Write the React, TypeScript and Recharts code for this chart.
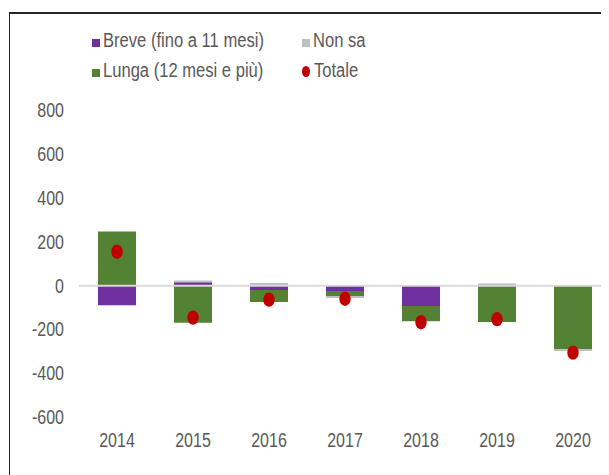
import React from "react";
import { Bar, ComposedChart, Legend, ReferenceLine, Scatter, XAxis, YAxis } from "recharts";

const years = ["2014", "2015", "2016", "2017", "2018", "2019", "2020"];
const breve = [-90, 15, -20, -25, -93, 5, 0];
const lunga = [247, -170, -55, -22, -68, -166, -290];
const nonSa = [0, 9, 12, -9, -3, 5, -9];
const totale = [155, -146, -64, -60, -167, -153, -306];
const yTicks = [-600, -400, -200, 0, 200, 400, 600, 800];

// no Arial Narrow installed: squeeze Liberation Sans instead
const FONT = "'Liberation Sans', Arial, sans-serif";
const SQUEEZE = 0.82;
const TEXT = "#595959";

const data = years.map((y, i) => ({
  anno: y,
  breve: breve[i],
  lunga: lunga[i],
  nonSa: nonSa[i],
  totale: totale[i],
}));

const legendItems = [
  { label: "Breve (fino a 11 mesi)", color: "#7030A0", dot: false },
  { label: "Non sa", color: "#BFBFBF", dot: false },
  { label: "Lunga (12 mesi e più)", color: "#548235", dot: false },
  { label: "Totale", color: "#C00000", dot: true },
];

function LegendBox() {
  return (
    <div
      style={{
        display: "grid",
        gridTemplateColumns: "210px 200px",
        fontFamily: FONT,
        fontSize: 19.5,
        lineHeight: "30px",
        color: TEXT,
        whiteSpace: "nowrap",
      }}
    >
      {legendItems.map((it) => (
        <div key={it.label}>
          <span
            style={{
              display: "inline-block",
              width: 8,
              height: it.dot ? 11 : 8,
              borderRadius: it.dot ? "50%" : 0,
              background: it.color,
              marginRight: it.dot ? 4 : 3,
            }}
          />
          <span style={{ display: "inline-block", transform: "scaleX(0.85)", transformOrigin: "left" }}>
            {it.label}
          </span>
        </div>
      ))}
    </div>
  );
}

const XTick = (p: any) => (
  <g transform={`translate(${p.x},${p.y})`}>
    <text transform={`scale(${SQUEEZE},1)`} textAnchor="middle" dy="0.71em" fontFamily={FONT} fontSize={19.5} fill={TEXT}>
      {p.payload.value}
    </text>
  </g>
);

const YTick = (p: any) => (
  <g transform={`translate(${p.x},${p.y})`}>
    <text transform={`scale(${SQUEEZE},1)`} textAnchor="end" dy="0.355em" fontFamily={FONT} fontSize={19.5} fill={TEXT}>
      {p.payload.value}
    </text>
  </g>
);

const Dot = (p: any) => <ellipse cx={p.cx} cy={p.cy} rx={5.7} ry={7.2} fill="#C00000" />;

export default function App() {
  return (
    <div style={{ position: "relative", width: 601, height: 467, overflow: "hidden", background: "#fff" }}>
      <div
        style={{
          position: "absolute",
          left: 1,
          top: 4,
          width: 700,
          height: 600,
          borderLeft: "1px solid #262626",
          borderTop: "2px solid #262626",
        }}
      />
      <div style={{ position: "absolute", left: 0, top: 0 }}>
        <ComposedChart
          width={640}
          height={467}
          data={data}
          stackOffset="sign"
          barCategoryGap="25%"
          margin={{ top: 102.5, right: 37, bottom: 18, left: 0 }}
        >
          <XAxis
            dataKey="anno"
            axisLine={false}
            tickLine={false}
            tickSize={8}
            tickMargin={8}
            height={40}
            tick={XTick}
          />
          <YAxis
            domain={[-600, 800]}
            ticks={yTicks}
            axisLine={false}
            tickLine={false}
            tickSize={8}
            tickMargin={7}
            width={71}
            tick={YTick}
            interval={0}
          />
          <Legend
            layout="horizontal"
            verticalAlign="middle"
            align="center"
            wrapperStyle={{ top: 17, left: 84, width: 420 }}
            content={() => <LegendBox />}
          />
          <ReferenceLine y={0} stroke="#D9D9D9" strokeWidth={2} />
          <Bar dataKey="breve" stackId="a" fill="#7030A0" isAnimationActive={false} />
          <Bar dataKey="lunga" stackId="a" fill="#548235" isAnimationActive={false} />
          <Bar dataKey="nonSa" stackId="a" fill="#BFBFBF" isAnimationActive={false} />
          <Scatter dataKey="totale" shape={Dot} isAnimationActive={false} />
        </ComposedChart>
      </div>
    </div>
  );
}
